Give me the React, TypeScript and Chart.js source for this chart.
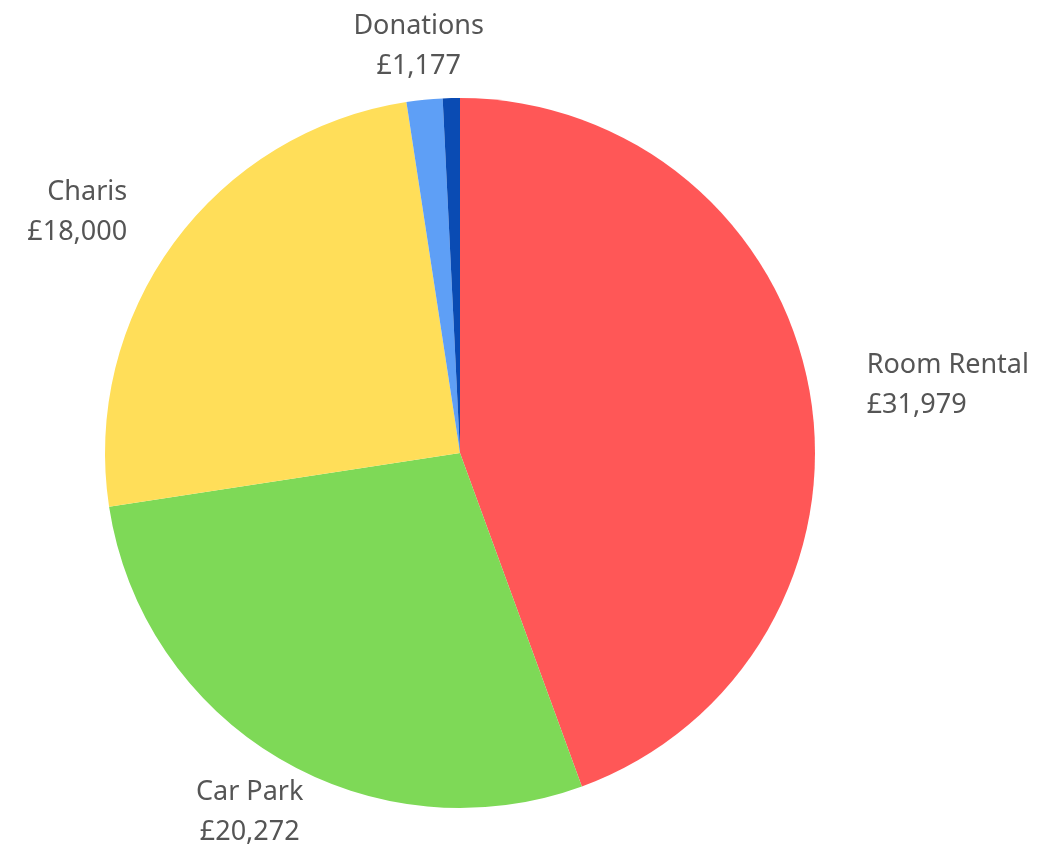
import React, { useEffect, useRef } from "react";
import { Chart, registerables } from "chart.js";

Chart.register(...registerables);

const categories = ["Room Rental", "Car Park", "Charis", "Donations", "Other"];
const values = [31979, 20272, 18000, 1177, 560];
const shownLabels = [true, true, true, true, false];
const colors = ["#FF5757", "#7ED957", "#FFDE59", "#5E9FF6", "#0A4BB3"];

const fmt = (v: number) => "£" + v.toLocaleString("en-GB");

const outsideLabels = {
  id: "outsideLabels",
  afterDraw(chart: any) {
    const ctx = chart.ctx;
    const meta = chart.getDatasetMeta(0);
    ctx.save();
    ctx.font = "27px 'Noto Sans', 'Open Sans', sans-serif";
    ctx.fillStyle = "#555555";
    ctx.textBaseline = "middle";
    const lineH = 40;
    meta.data.forEach((arc: any, i: number) => {
      if (!shownLabels[i]) return;
      const { x, y, startAngle, endAngle, outerRadius } = arc.getProps(
        ["x", "y", "startAngle", "endAngle", "outerRadius"],
        true
      );
      const mid = (startAngle + endAngle) / 2;
      const lines = [categories[i], fmt(values[i])];
      const c = Math.cos(mid);
      const s = Math.sin(mid);
      const dist = outerRadius + 58;
      const ax = x + c * dist;
      const ay = y + s * dist + 4;
      ctx.textAlign = c > 0.7 ? "left" : c < -0.7 ? "right" : "center";
      lines.forEach((l, k) => {
        ctx.fillText(l, ax, ay + (k - (lines.length - 1) / 2) * lineH);
      });
    });
    ctx.restore();
  },
};

export default function App() {
  const ref = useRef<HTMLCanvasElement | null>(null);
  useEffect(() => {
    if (!ref.current) return;
    const chart = new Chart(ref.current, {
      type: "pie",
      data: {
        labels: categories,
        datasets: [
          {
            data: values,
            backgroundColor: colors,
            borderWidth: 0,
          },
        ],
      },
      options: {
        animation: false,
        responsive: false,
        maintainAspectRatio: false,
        layout: { padding: { left: 105, right: 228, top: 98, bottom: 36 } },
        plugins: {
          legend: { display: false },
          tooltip: { enabled: false },
        },
      },
      plugins: [outsideLabels],
    });
    return () => chart.destroy();
  }, []);
  return (
    <div style={{ position: "absolute", left: 0, top: 0, width: 1043, height: 844, background: "#fff" }}>
      <canvas ref={ref} width={1043} height={844} style={{ width: 1043, height: 844 }} />
    </div>
  );
}
